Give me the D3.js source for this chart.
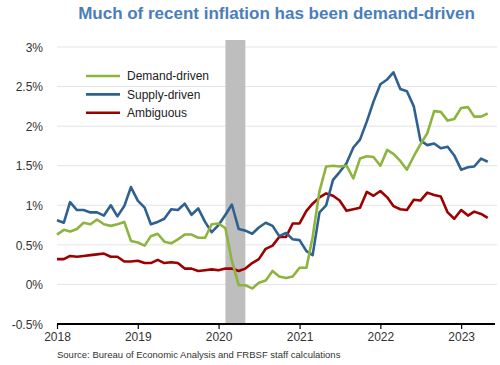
<!DOCTYPE html>
<html><head><meta charset="utf-8">
<script src="https://cdn.jsdelivr.net/npm/d3@7"></script>
<style>
body{margin:0;background:#fff;}
svg text{font-family:"Liberation Sans",Arial,sans-serif;}
</style></head>
<body><svg id="c" width="500" height="365"></svg>
<script>
const seriesNames = ["Demand-driven","Supply-driven","Ambiguous"];
const seriesColors = ["#8db43e","#2f6190","#9e0000"];
const demand = [0.63,0.69,0.67,0.70,0.78,0.76,0.82,0.76,0.74,0.76,0.79,0.55,
 0.53,0.49,0.61,0.64,0.54,0.52,0.57,0.63,0.63,0.59,0.59,0.76,
 0.77,0.71,0.30,-0.01,-0.01,-0.05,0.02,0.05,0.17,0.10,0.08,0.10,
 0.21,0.21,0.60,1.18,1.49,1.50,1.49,1.50,1.34,1.59,1.62,1.61,
 1.50,1.70,1.65,1.56,1.45,1.62,1.77,1.91,2.19,2.18,2.07,2.09,
 2.23,2.24,2.12,2.12,2.16];
const supply = [0.81,0.78,1.04,0.94,0.94,0.91,0.91,0.87,1.00,0.86,0.99,1.23,
 1.06,0.97,0.76,0.79,0.83,0.95,0.94,1.02,0.88,0.96,0.79,0.66,
 0.75,0.88,1.01,0.70,0.68,0.64,0.72,0.78,0.74,0.61,0.65,0.57,
 0.56,0.42,0.37,0.91,1.00,1.32,1.42,1.53,1.73,1.83,2.06,2.31,
 2.53,2.59,2.68,2.47,2.44,2.25,1.82,1.76,1.78,1.72,1.74,1.63,
 1.45,1.48,1.49,1.59,1.55];
const ambiguous = [0.32,0.32,0.36,0.35,0.36,0.37,0.38,0.39,0.35,0.35,0.29,0.29,
 0.30,0.27,0.27,0.31,0.27,0.28,0.27,0.20,0.20,0.17,0.18,0.19,
 0.18,0.20,0.20,0.17,0.20,0.27,0.32,0.45,0.49,0.60,0.60,0.77,
 0.77,0.93,1.02,1.10,1.15,1.12,1.06,0.93,0.95,0.97,1.17,1.12,
 1.18,1.10,0.99,0.95,0.94,1.07,1.06,1.16,1.13,1.11,0.91,0.83,
 0.94,0.87,0.92,0.89,0.84];
const months = d3.timeMonth.range(new Date(2018,0,1), new Date(2023,5,1));
const yTicks = [-0.5,0,0.5,1,1.5,2,2.5,3];
const xTickYears = [2018,2019,2020,2021,2022,2023];
const recession = [new Date(2020,1,1), new Date(2020,4,1)];
const titleText = "Much of recent inflation has been demand-driven";
const sourceText = "Source: Bureau of Economic Analysis and FRBSF staff calculations";

const svg = d3.select("#c");
const x = d3.scaleTime().domain([new Date(2018,0,1), new Date(2023,5,12)]).range([57,497]);
const y = d3.scaleLinear().domain([-0.5,3]).range([324,47]);

svg.append("text").attr("x",276.5).attr("y",19).attr("text-anchor","middle")
  .attr("font-size",17).attr("font-weight","bold").attr("fill","#4a7ebb").text(titleText);

// gridlines
svg.append("g").selectAll("line").data(yTicks.filter(d=>d>-0.5)).join("line")
  .attr("x1",57).attr("x2",497).attr("y1",d=>y(d)).attr("y2",d=>y(d))
  .attr("stroke","#e4e4e4").attr("stroke-width",1);

// recession
svg.append("rect").attr("x",x(recession[0])).attr("width",x(recession[1])-x(recession[0]))
  .attr("y",40).attr("height",y(-0.5)-40).attr("fill","#bebebe");

// y axis labels
const yAxis = d3.axisLeft(y).tickValues(yTicks).tickSize(0).tickPadding(0)
  .tickFormat(d=> (d<0?"-":"") + Math.abs(d) + "%");
const gy = svg.append("g").attr("transform","translate(43,0)").call(yAxis);
gy.select(".domain").remove();
gy.selectAll("text").attr("font-size",12).attr("fill","#333").attr("font-family","Liberation Sans, Arial, sans-serif").attr("dy","0.35em");

// x axis
const xAxis = d3.axisBottom(x).tickValues(xTickYears.map(yr=>new Date(yr,0,1)))
  .tickSize(5).tickPadding(3).tickFormat(d3.timeFormat("%Y"));
const gx = svg.append("g").attr("transform",`translate(0,${y(-0.5)})`).call(xAxis);
gx.select(".domain").attr("d",`M57,0H495`).attr("stroke","#000").attr("stroke-width",2);
gx.selectAll(".tick line").attr("stroke","#000").attr("stroke-width",1.2);
gx.selectAll("text").attr("font-size",12).attr("fill","#333").attr("font-family","Liberation Sans, Arial, sans-serif");

// lines
const all = [demand, supply, ambiguous];
const line = d3.line().x((d,i)=>x(months[i])).y(d=>y(d));
[2,1,0].forEach(k=>{
  svg.append("path").datum(all[k]).attr("d",line).attr("fill","none")
    .attr("stroke",seriesColors[k]).attr("stroke-width",2.6).attr("stroke-linejoin","round");
});

// legend
const lg = svg.append("g");
seriesNames.forEach((n,i)=>{
  const ly = 76 + i*18.4;
  lg.append("line").attr("x1",86).attr("x2",120).attr("y1",ly).attr("y2",ly)
    .attr("stroke",seriesColors[i]).attr("stroke-width",2.6);
  lg.append("text").attr("x",127).attr("y",ly).attr("dy","0.35em").attr("font-size",12)
    .attr("fill","#222").text(n);
});

svg.append("text").attr("x",57).attr("y",358).attr("font-size",9.5).attr("fill","#333").text(sourceText);
</script></body></html>
